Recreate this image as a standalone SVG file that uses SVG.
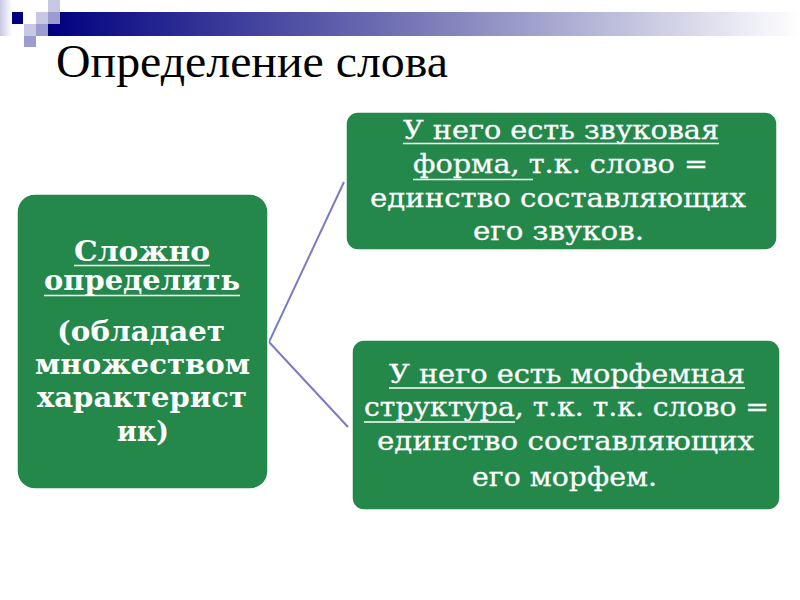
<svg xmlns="http://www.w3.org/2000/svg" width="800" height="600" viewBox="0 0 800 600">
<defs>
<linearGradient id="bar" x1="0" y1="0" x2="1" y2="0">
<stop offset="0" stop-color="#000080"/>
<stop offset="0.5" stop-color="#7a7ab8"/>
<stop offset="1" stop-color="#ffffff"/>
</linearGradient>
<linearGradient id="side" x1="0" y1="0" x2="1" y2="0">
<stop offset="0" stop-color="#c8c8e4"/>
<stop offset="1" stop-color="#ffffff"/>
</linearGradient>
<style>
.box{fill:#23884a;stroke:#ffffff;stroke-width:1.5}
.t{fill:#ffffff;text-anchor:middle}
.b{font-weight:bold;font-size:27px}
.r{font-size:26px;stroke:#ffffff;stroke-width:0.3}
.ul{stroke:#ffffff;stroke-width:1.6}
.link{stroke:#7b7bc4;stroke-width:2;fill:none}
</style>
</defs>
<rect width="800" height="600" fill="#ffffff"/>
<g id="decor">
<rect x="0" y="0" width="12" height="36" fill="url(#side)"/>
<rect x="48" y="12" width="752" height="24" fill="url(#bar)"/>
<rect x="12" y="12" width="11" height="12" fill="#000080"/>
<rect x="48" y="0" width="12" height="12" fill="#c8c8e4"/>
<rect x="36" y="12" width="12" height="12" fill="#c8c8e4"/>
<rect x="48" y="12" width="12" height="12" fill="#9c9cd0"/>
<rect x="24" y="24" width="12" height="12" fill="#c8c8e4"/>
<rect x="36" y="24" width="12" height="12" fill="#9c9cd0"/>
<rect x="24" y="36" width="12" height="11" fill="#9c9cd0"/>
</g>
<text id="title" x="56" y="77" font-family="Liberation Serif, serif" font-size="46" fill="#000000" textLength="392" lengthAdjust="spacingAndGlyphs">Определение слова</text>
<g id="connectors">
<polyline class="link" points="344,182 269,342 348,427"/>
</g>
<g id="node-main" font-family="DejaVu Serif, serif">
<rect class="box" x="17" y="194" width="251" height="295" rx="18"/>
<text class="t b" x="142" y="261" textLength="136" lengthAdjust="spacingAndGlyphs">Сложно</text>
<text class="t b" x="142" y="290" textLength="196" lengthAdjust="spacingAndGlyphs">определить</text>
<text class="t b" x="141" y="341" textLength="168" lengthAdjust="spacingAndGlyphs">(обладает</text>
<text class="t b" x="142.5" y="374" textLength="215" lengthAdjust="spacingAndGlyphs">множеством</text>
<text class="t b" x="142" y="407" textLength="210" lengthAdjust="spacingAndGlyphs">характерист</text>
<text class="t b" x="143" y="441" textLength="52" lengthAdjust="spacingAndGlyphs">ик)</text>
<line class="ul" x1="74" y1="265.5" x2="210" y2="265.5"/>
<line class="ul" x1="44" y1="295.5" x2="240" y2="295.5"/>
</g>
<g id="node-sound" font-family="DejaVu Serif, serif">
<rect class="box" x="346" y="112" width="431" height="138" rx="12"/>
<text class="t r" x="561" y="139" textLength="316" lengthAdjust="spacingAndGlyphs">У него есть звуковая</text>
<text class="t r" x="560.5" y="173" textLength="295" lengthAdjust="spacingAndGlyphs">форма, т.к. слово =</text>
<text class="t r" x="558" y="207" textLength="376" lengthAdjust="spacingAndGlyphs">единство составляющих</text>
<text class="t r" x="558.5" y="240" textLength="171" lengthAdjust="spacingAndGlyphs">его звуков.</text>
<line class="ul" x1="403" y1="143.5" x2="719" y2="143.5"/>
<line class="ul" x1="413" y1="179.5" x2="533" y2="179.5"/>
</g>
<g id="node-morph" font-family="DejaVu Serif, serif">
<rect class="box" x="352" y="340" width="428" height="170" rx="12"/>
<text class="t r" x="567" y="383" textLength="356" lengthAdjust="spacingAndGlyphs">У него есть морфемная</text>
<text class="t r" x="566.5" y="416" textLength="405" lengthAdjust="spacingAndGlyphs">структура, т.к. т.к. слово =</text>
<text class="t r" x="565.5" y="450" textLength="377" lengthAdjust="spacingAndGlyphs">единство составляющих</text>
<text class="t r" x="564.5" y="486" textLength="185" lengthAdjust="spacingAndGlyphs">его морфем.</text>
<line class="ul" x1="389" y1="388" x2="745" y2="388"/>
<line class="ul" x1="364" y1="422" x2="515" y2="422"/>
</g>
</svg>
